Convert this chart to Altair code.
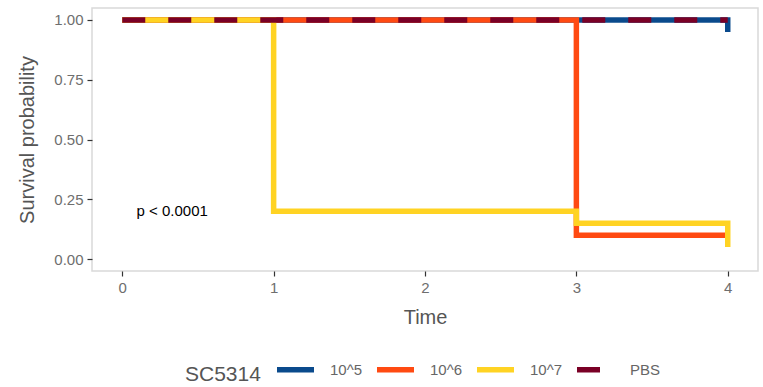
import altair as alt
import pandas as pd

# Kaplan-Meier step curves per inoculum group
groups = ["10^5", "10^6", "10^7", "PBS"]
colors = ["#0A4A8C", "#FF4A12", "#FFD323", "#7A0026"]

time_10_5 = [0, 4, 4]
surv_10_5 = [1.0, 1.0, 0.95]

time_10_6 = [0, 3, 4]
surv_10_6 = [1.0, 0.10, 0.10]

time_10_7 = [0, 1, 3, 4, 4]
surv_10_7 = [1.0, 0.20, 0.15, 0.15, 0.05]

time_pbs = [0, 4]
surv_pbs = [1.0, 1.0]

p_label = "p < 0.0001"
p_x, p_y = 0.33, 0.20

x_ticks = [0, 1, 2, 3, 4]
y_ticks = [0.0, 0.25, 0.5, 0.75, 1.0]

rows = []
series = [(time_10_5, surv_10_5), (time_10_6, surv_10_6),
          (time_10_7, surv_10_7), (time_pbs, surv_pbs)]
for order, (g, (ts, ss)) in enumerate(zip(groups, series)):
    for i, (t, s) in enumerate(zip(ts, ss)):
        rows.append({"group": g, "time": t, "surv": s, "order": order, "idx": i})
df = pd.DataFrame(rows)

font = "Liberation Sans"

x_enc = alt.X("time:Q",
              scale=alt.Scale(domain=[-0.2, 4.2], nice=False, zero=False),
              axis=alt.Axis(values=x_ticks, format="d", title="Time"))
y_enc = alt.Y("surv:Q",
              scale=alt.Scale(domain=[-0.05, 1.05], nice=False, zero=False),
              axis=alt.Axis(values=y_ticks, format=".2f", title="Survival probability"))

lines = alt.Chart(df).mark_line(
    interpolate="step-after", strokeWidth=5.5, strokeJoin="miter"
).encode(
    x=x_enc,
    y=y_enc,
    detail="group:N",
    order=alt.Order("idx:Q"),
    color=alt.Color(
        "group:N",
        scale=alt.Scale(domain=groups, range=colors),
        legend=alt.Legend(
            title="SC5314",
            orient="none",
            legendX=93,
            legendY=340,
            direction="horizontal",
            titleOrient="left",
            titleFontSize=21,
            titleFontWeight="normal",
            titleColor="#555555",
            titleFont=font,
            titlePadding=13,
            titleBaseline="top",
            titleLineHeight=17,
            labelFontSize=15,
            labelColor="#666666",
            labelFont=font,
            labelOffset=13,
            columnPadding=3,
            symbolType="stroke",
            symbolSize=1369,
            symbolStrokeWidth=5.5,
        ),
    ),
    strokeDash=alt.StrokeDash(
        "group:N",
        scale=alt.Scale(domain=groups, range=[[1, 0], [1, 0], [1, 0], [23, 23]]),
        legend=None,
    ),
)

# draw each curve as its own layer so PBS dashes sit on top
layers = []
for g in groups:
    layers.append(lines.transform_filter(alt.datum.group == g))

ptext = alt.Chart(pd.DataFrame({"x": [p_x], "y": [p_y], "t": [p_label]})).mark_text(
    fontSize=15, font=font, color="#000000", align="center", baseline="middle"
).encode(x="x:Q", y="y:Q", text="t:N")

chart = alt.layer(*layers, ptext).properties(
    width=666,
    height=263,
    padding={"left": 92, "top": 8, "right": 5, "bottom": 116},
    autosize=alt.AutoSizeParams(type="none"),
).configure_view(
    stroke="#D9D9D9", strokeWidth=1.5
).configure_axis(
    grid=False,
    domain=False,
    ticks=True,
    tickColor="#333333",
    tickSize=5,
    tickWidth=1.2,
    labelFont=font,
    labelFontSize=15,
    labelColor="#6E6E6E",
    labelPadding=4,
    titleFont=font,
    titleFontSize=20,
    titleFontWeight="normal",
    titleColor="#555555",
).configure_axisY(
    titlePadding=16,
).configure_axisX(
    titlePadding=12,
)

chart.save("out.html", embed_options={"renderer": "svg", "actions": False})
